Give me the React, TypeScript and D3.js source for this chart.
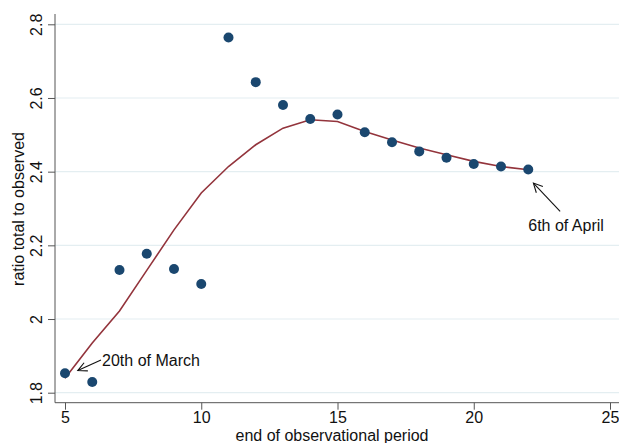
import * as d3 from "d3";
import { useEffect, useRef } from "react";

const periods = [5, 6, 7, 8, 9, 10, 11, 12, 13, 14, 15, 16, 17, 18, 19, 20, 21, 22];
const observedRatio = [
  1.853, 1.829, 2.133, 2.177, 2.136, 2.095, 2.764, 2.643, 2.581, 2.543, 2.555, 2.507,
  2.48, 2.455, 2.438, 2.421, 2.414, 2.406,
];
const smoothedRatio = [
  1.839, 1.935, 2.022, 2.132, 2.242, 2.342, 2.414, 2.473, 2.518, 2.541, 2.536, 2.509,
  2.486, 2.464, 2.446, 2.428, 2.414, 2.405,
];
const xTicks = [5, 10, 15, 20, 25];
const yTicks = [1.8, 2, 2.2, 2.4, 2.6, 2.8];
const notes = [
  { text: "20th of March", tail: [6.32, 1.889], head: [5.47, 1.86], at: [6.36, 1.889], anchor: "start" },
  { text: "6th of April", tail: [23.17, 2.292], head: [22.19, 2.369], at: [22.0, 2.253], anchor: "start" },
];

const W = 619;
const H = 443;

export default function App() {
  const ref = useRef<SVGSVGElement>(null);

  useEffect(() => {
    const svg = d3.select(ref.current);
    svg.selectAll("*").remove();

    const x = d3.scaleLinear().domain([5, 25]).range([65, 610]);
    const y = d3.scaleLinear().domain([1.8, 2.8]).range([392.7, 24.3]);
    const left = 55;
    const bottom = 402.7;
    const font = "'Liberation Sans', Arial, sans-serif";

    svg
      .append("defs")
      .append("marker")
      .attr("id", "arr")
      .attr("viewBox", "-10 -6 12 12")
      .attr("refX", 0)
      .attr("refY", 0)
      .attr("markerWidth", 12)
      .attr("markerHeight", 12)
      .attr("markerUnits", "userSpaceOnUse")
      .attr("orient", "auto")
      .append("path")
      .attr("d", "M-9,-4.5 L0,0 L-9,4.5")
      .attr("fill", "none")
      .attr("stroke", "#111")
      .attr("stroke-width", 1.1);

    // gridlines
    svg
      .append("g")
      .selectAll("line")
      .data(yTicks)
      .join("line")
      .attr("x1", left)
      .attr("x2", W)
      .attr("y1", (d) => y(d))
      .attr("y2", (d) => y(d))
      .attr("stroke", "#e4eef1")
      .attr("stroke-width", 1.2);

    // y axis
    const gy = svg
      .append("g")
      .attr("transform", `translate(${left},0)`)
      .call(d3.axisLeft(y).tickValues(yTicks).tickSize(7).tickSizeOuter(0).tickFormat(d3.format("~g")));
    gy.select(".domain").attr("d", `M0,14 V${bottom}`).attr("stroke", "#555");
    gy.selectAll(".tick line").attr("stroke", "#555");
    gy.selectAll(".tick text")
      .attr("x", null)
      .attr("dy", null)
      .attr("transform", "translate(-13,0) rotate(-90)")
      .attr("text-anchor", "middle")
      .attr("fill", "#111")
      .style("font-family", font)
      .style("font-size", "16px");

    // x axis
    const gx = svg
      .append("g")
      .attr("transform", `translate(0,${bottom})`)
      .call(d3.axisBottom(x).tickValues(xTicks).tickSize(7).tickSizeOuter(0));
    gx.select(".domain").attr("d", `M${left},0 H${W}`).attr("stroke", "#555");
    gx.selectAll(".tick line").attr("stroke", "#555");
    gx.selectAll(".tick text")
      .attr("y", 9)
      .attr("fill", "#111")
      .style("font-family", font)
      .style("font-size", "16px");

    // axis titles
    svg
      .append("text")
      .attr("transform", `translate(24,209) rotate(-90)`)
      .attr("text-anchor", "middle")
      .style("font-family", font)
      .style("font-size", "16px")
      .attr("fill", "#111")
      .text("ratio total to observed");
    svg
      .append("text")
      .attr("x", 332)
      .attr("y", 441)
      .attr("text-anchor", "middle")
      .style("font-family", font)
      .style("font-size", "16px")
      .attr("fill", "#111")
      .text("end of observational period");

    // fitted line
    const line = d3
      .line<number>()
      .x((d, i) => x(periods[i]))
      .y((d) => y(d));
    svg
      .append("path")
      .datum(smoothedRatio)
      .attr("d", line)
      .attr("fill", "none")
      .attr("stroke", "#93343c")
      .attr("stroke-width", 1.6);

    // points
    svg
      .append("g")
      .selectAll("circle")
      .data(observedRatio)
      .join("circle")
      .attr("cx", (d, i) => x(periods[i]))
      .attr("cy", (d) => y(d))
      .attr("r", 5)
      .attr("fill", "#1a476f");

    // annotations
    const ann = svg.append("g");
    notes.forEach((n) => {
      ann
        .append("line")
        .attr("x1", x(n.tail[0]))
        .attr("y1", y(n.tail[1]))
        .attr("x2", x(n.head[0]))
        .attr("y2", y(n.head[1]))
        .attr("stroke", "#111")
        .attr("stroke-width", 1.1)
        .attr("marker-end", "url(#arr)");
      ann
        .append("text")
        .attr("x", x(n.at[0]))
        .attr("y", y(n.at[1]))
        .attr("dy", "0.35em")
        .attr("text-anchor", n.anchor)
        .style("font-family", font)
        .style("font-size", "16px")
        .attr("fill", "#111")
        .text(n.text);
    });
  }, []);

  return (
    <div style={{ position: "absolute", left: 0, top: 0, width: W, height: H, background: "#fff" }}>
      <svg ref={ref} width={W} height={H} style={{ display: "block" }} />
    </div>
  );
}
